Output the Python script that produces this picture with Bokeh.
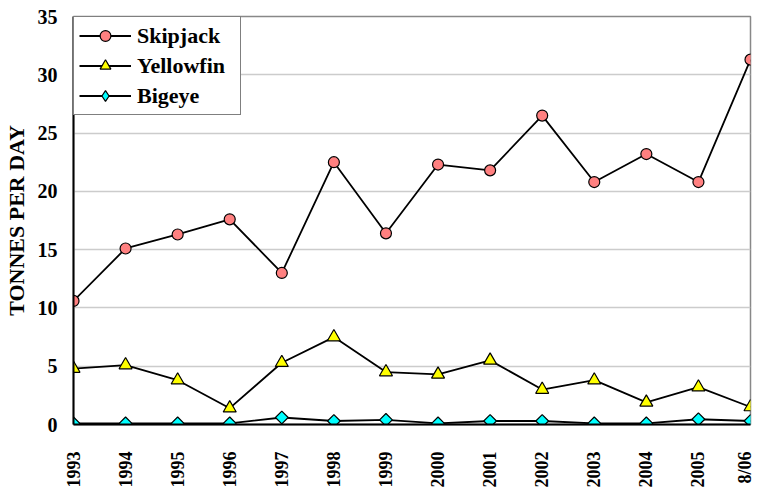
import math
from bokeh.plotting import figure
from bokeh.models import Range1d, FixedTicker, Legend, LegendItem
from bokeh.embed import file_html
from bokeh.resources import INLINE

years = ["1993", "1994", "1995", "1996", "1997", "1998", "1999", "2000",
         "2001", "2002", "2003", "2004", "2005", "8/06"]
skipjack = [10.6, 15.1, 16.3, 17.6, 13.0, 22.5, 16.4, 22.3, 21.8, 26.5, 20.8, 23.2, 20.8, 31.3]
yellowfin = [4.8, 5.1, 3.8, 1.4, 5.3, 7.5, 4.5, 4.3, 5.5, 3.0, 3.8, 1.9, 3.2, 1.5]
bigeye = [0.1, 0.1, 0.1, 0.1, 0.6, 0.3, 0.4, 0.1, 0.3, 0.3, 0.1, 0.1, 0.45, 0.3]
y_ticks = [0, 5, 10, 15, 20, 25, 30, 35]

x = list(range(len(years)))
FONT = "Liberation Serif"

p = figure(width=754, height=493, output_backend="svg", toolbar_location=None,
           x_range=Range1d(0, len(years) - 1), y_range=Range1d(0, 35),
           min_border_left=71, min_border_right=4, min_border_top=16, min_border_bottom=69)
p.background_fill_color = "white"
p.border_fill_color = "white"
p.outline_line_color = "#888888"
p.outline_line_width = 1.5

p.xaxis.ticker = FixedTicker(ticks=x)
p.xaxis.major_label_overrides = {i: y for i, y in enumerate(years)}
p.xaxis.major_label_orientation = math.pi / 2
p.yaxis.ticker = FixedTicker(ticks=y_ticks)

for ax in (p.xaxis[0], p.yaxis[0]):
    ax.axis_line_color = "black"
    ax.axis_line_width = 2
    ax.major_tick_line_color = None
    ax.minor_tick_line_color = None
    ax.major_tick_out = 0
    ax.major_tick_in = 0
    ax.minor_tick_out = 0
    ax.major_label_text_font = FONT
    ax.major_label_text_font_style = "bold"
    ax.major_label_text_color = "black"
p.yaxis.major_label_text_font_size = "20px"
p.xaxis.major_label_text_font_size = "18px"
p.xaxis.major_label_standoff = 27
p.yaxis.major_label_standoff = 16
p.yaxis.axis_label = "TONNES PER DAY"
p.yaxis.axis_label_text_font = FONT
p.yaxis.axis_label_text_font_style = "bold"
p.yaxis.axis_label_text_font_size = "22px"
p.yaxis.axis_label_text_color = "black"
p.yaxis.axis_label_standoff = 6

p.xgrid.grid_line_color = None
p.ygrid.grid_line_color = "#cccccc"
p.ygrid.grid_line_width = 1.5

l1 = p.line(x, skipjack, line_color="black", line_width=1.8)
m1 = p.scatter(x, skipjack, marker="circle", size=11, fill_color="#ff8080", line_color="black", line_width=1.2)
l2 = p.line(x, yellowfin, line_color="black", line_width=1.8)
m2 = p.scatter(x, yellowfin, marker="triangle", size=13, fill_color="#ffff00", line_color="black", line_width=1.2)
l3 = p.line(x, bigeye, line_color="black", line_width=1.8)
m3 = p.scatter(x, bigeye, marker="square", angle=math.pi / 4, size=9, fill_color="#00ffff", line_color="black", line_width=1.2)
# legend-only swatch (no drawable point) so the legend shows a diamond
m3_key = p.scatter(x=[float("nan")], y=[float("nan")], marker="diamond", size=12,
                   fill_color="#00ffff", line_color="black", line_width=1.2)

legend = Legend(items=[LegendItem(label="Skipjack", renderers=[l1, m1]),
                       LegendItem(label="Yellowfin", renderers=[l2, m2]),
                       LegendItem(label="Bigeye", renderers=[l3, m3_key])],
                location="top_left")
legend.margin = 0
legend.padding = 5
legend.spacing = 3
legend.label_text_font = FONT
legend.label_text_font_style = "bold"
legend.label_text_font_size = "22px"
legend.label_text_color = "black"
legend.label_height = 27
legend.glyph_height = 27
legend.glyph_width = 52
legend.label_width = 98
legend.label_standoff = 6
legend.border_line_color = "black"
legend.border_line_width = 1.2
legend.background_fill_alpha = 1
p.add_layout(legend)

open("out.html", "w").write(file_html(p, INLINE))
